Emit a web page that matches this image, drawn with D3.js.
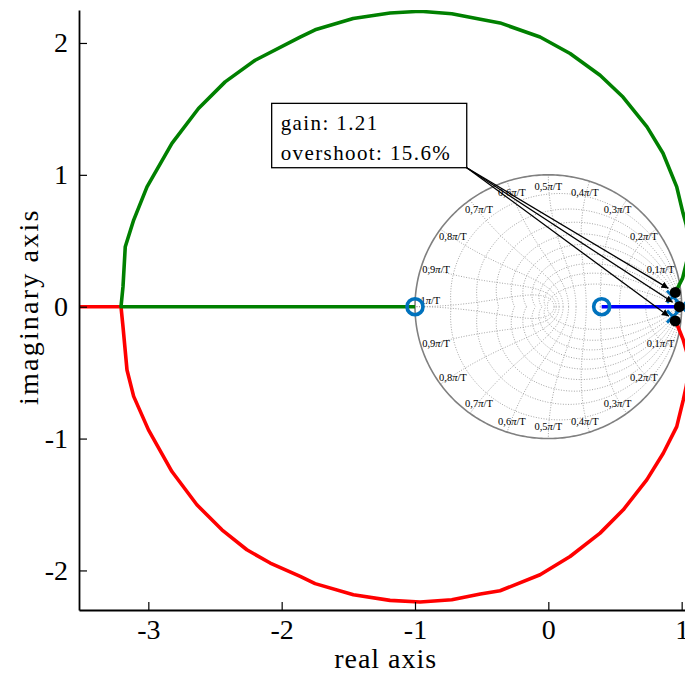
<!DOCTYPE html>
<html lang="en">
<head>
<meta charset="UTF-8">
<title>Root locus</title>
<script src="https://d3js.org/d3.v7.min.js"></script>
<style>
  body { margin: 0; background: #fff; }
  svg text { font-family: "Liberation Serif", "DejaVu Serif", serif; fill: #000; }
</style>
</head>
<body>
<div id="chart"></div>
<script>
// locus branches, [re, im]
const greenBranch = [[0.935,0.075],[0.952,0.108],[1.007,0.217],[1.04,0.35],[1.05,0.5],[1.035,0.62],[1.01,0.71],
  [0.963,0.909],[0.86,1.164],[0.74,1.364],[0.56,1.59],[0.388,1.755],[0.163,1.92],[-0.062,2.045],[-0.362,2.152],
  [-0.51,2.18],[-0.724,2.222],[-0.962,2.24],[-1.187,2.227],[-1.464,2.185],[-1.749,2.10],[-1.862,2.045],
  [-2.199,1.869],[-2.424,1.705],[-2.624,1.503],[-2.823,1.238],[-3.01,0.909],[-3.11,0.657],[-3.173,0.455],
  [-3.19,0.152],[-3.205,0],[-3.06,0],[-2.6,0],[-1,0]];
const redBranch = [[0.935,-0.075],[0.957,-0.114],[1.012,-0.252],[1.04,-0.35],[1.05,-0.5],[1.035,-0.6],[1.012,-0.707],
  [0.963,-0.909],[0.862,-1.111],[0.738,-1.313],[0.562,-1.54],[0.388,-1.717],[0.163,-1.894],[-0.062,-2.033],
  [-0.362,-2.154],[-0.51,-2.179],[-0.724,-2.222],[-0.962,-2.239],[-1.187,-2.227],[-1.462,-2.184],[-1.749,-2.10],
  [-1.861,-2.045],[-2.086,-1.944],[-2.261,-1.843],[-2.448,-1.692],[-2.636,-1.502],[-2.823,-1.25],[-2.999,-0.934],
  [-3.11,-0.68],[-3.16,-0.48],[-3.19,-0.152],[-3.205,0],[-4,0]];
const blueBranch = [[1.0,0],[0.4,0]];

const olZeros = [[0.4,0],[-1,0]];
const olPoles = [[1.0,0],[0.935,0.075],[0.935,-0.075]];
const clPoles = [[0.952,0.108],[0.983,0],[0.952,-0.108]];   // at gain 1.21

const xTicks = [-3,-2,-1,0,1];
const yTicks = [-2,-1,0,1,2];

// z-plane grid
const zetas = [0.1,0.2,0.3,0.4,0.5,0.6,0.7,0.8,0.9];
const wns = [0.1,0.2,0.3,0.4,0.5,0.6,0.7,0.8,0.9,1.0];
const wnLabels = ["0,1","0,2","0,3","0,4","0,5","0,6","0,7","0,8","0,9","1"];

const infoLines = ["gain: 1.21", "overshoot: 15.6%"];
const infoBox = { x0: -2.075, y0: 1.542, x1: -0.612, y1: 1.054 };

const W = 685, H = 680;
const margin = { top: 10, right: 0, bottom: 70, left: 79 };

const svg = d3.select("#chart").append("svg")
  .attr("width", W).attr("height", H);

const x = d3.scaleLinear().domain([-3.52, 1.025]).range([margin.left, W - margin.right]);
const y = d3.scaleLinear().domain([-2.3, 2.25]).range([H - margin.bottom, margin.top]);

svg.append("defs").append("clipPath").attr("id", "plotclip")
  .append("rect")
  .attr("x", margin.left).attr("y", margin.top)
  .attr("width", W - margin.right - margin.left)
  .attr("height", H - margin.bottom - margin.top);

svg.select("defs").append("marker")
  .attr("id", "arrowhead")
  .attr("viewBox", "0 0 10 10")
  .attr("refX", 10).attr("refY", 5)
  .attr("markerWidth", 7).attr("markerHeight", 7)
  .attr("markerUnits", "userSpaceOnUse")
  .attr("orient", "auto")
  .append("path").attr("d", "M0,0 L10,5 L0,10 z").attr("fill", "#000");

const plot = svg.append("g").attr("clip-path", "url(#plotclip)");
const line = d3.line().x(d => x(d[0])).y(d => y(d[1]));

// grid: damping spirals and natural frequency curves
const grid = plot.append("g")
  .attr("fill", "none").attr("stroke", "#9a9a9a")
  .attr("stroke-width", 0.9).attr("stroke-dasharray", "1,1.6");

zetas.forEach(z => {
  const k = z / Math.sqrt(1 - z * z);
  const pts = d3.range(0, 1.0001, 0.01).map(t => {
    const m = Math.exp(-Math.PI * k * t), a = Math.PI * t;
    return [m * Math.cos(a), m * Math.sin(a)];
  });
  grid.append("path").attr("d", line(pts));
  grid.append("path").attr("d", line(pts.map(p => [p[0], -p[1]])));
});

wns.forEach(w => {
  const pts = d3.range(0, Math.PI / 2 + 0.0001, Math.PI / 200).map(t => {
    const m = Math.exp(-Math.PI * w * Math.cos(t)), a = Math.PI * w * Math.sin(t);
    return [m * Math.cos(a), m * Math.sin(a)];
  });
  grid.append("path").attr("d", line(pts));
  grid.append("path").attr("d", line(pts.map(p => [p[0], -p[1]])));
});

// unit circle
plot.append("path")
  .attr("d", line(d3.range(0, 2 * Math.PI + 0.001, Math.PI / 180).map(t => [Math.cos(t), Math.sin(t)])))
  .attr("fill", "none").attr("stroke", "#808080").attr("stroke-width", 1.6);

// frequency labels
const lab = plot.append("g").attr("font-size", 10.5).attr("text-anchor", "middle");
wns.forEach((w, i) => {
  const a = Math.PI * w;
  [1, -1].forEach(s => {
    if (w === 1 && s === -1) return;
    const t = lab.append("text")
      .attr("x", x(0.885 * Math.cos(a)))
      .attr("y", y(s * 0.91 * Math.sin(a) + (w === 1 ? 0.05 : 0)))
      .attr("dy", "0.35em");
    t.append("tspan").text(wnLabels[i]);
    t.append("tspan").attr("font-style", "italic").text("π");
    t.append("tspan").text("/T");
  });
});

// locus branches
[[redBranch, "#ff0000"], [greenBranch, "#008000"], [blueBranch, "#0000ff"]].forEach(([b, c]) => {
  plot.append("path").attr("d", line(b))
    .attr("fill", "none").attr("stroke", c)
    .attr("stroke-width", 3.6).attr("stroke-linejoin", "round");
});

// open-loop zeros and poles
const mk = "#0072bd";
plot.selectAll("circle.zero").data(olZeros).join("circle")
  .attr("class", "zero")
  .attr("cx", d => x(d[0])).attr("cy", d => y(d[1])).attr("r", 8)
  .attr("fill", "none").attr("stroke", mk).attr("stroke-width", 3.6);

plot.selectAll("path.pole").data(olPoles).join("path")
  .attr("class", "pole")
  .attr("d", d => {
    const cx = x(d[0]), cy = y(d[1]), s = 6;
    return `M${cx - s},${cy - s}L${cx + s},${cy + s}M${cx - s},${cy + s}L${cx + s},${cy - s}`;
  })
  .attr("stroke", mk).attr("stroke-width", 3);

// closed-loop poles
plot.selectAll("circle.cl").data(clPoles).join("circle")
  .attr("class", "cl")
  .attr("cx", d => x(d[0])).attr("cy", d => y(d[1])).attr("r", 5.5)
  .attr("fill", "#000");

// annotation box + arrows
const bx = x(infoBox.x0), by = y(infoBox.y0), bx1 = x(infoBox.x1), by1 = y(infoBox.y1);
clPoles.forEach(p => {
  const px = x(p[0]), py = y(p[1]);
  const dx = px - bx1, dy = py - by1, len = Math.hypot(dx, dy);
  const sh = 8;
  svg.append("line")
    .attr("x1", bx1).attr("y1", by1)
    .attr("x2", px - dx / len * sh).attr("y2", py - dy / len * sh)
    .attr("stroke", "#000").attr("stroke-width", 1.3)
    .attr("marker-end", "url(#arrowhead)");
});
svg.append("rect")
  .attr("x", bx).attr("y", by).attr("width", bx1 - bx).attr("height", by1 - by)
  .attr("fill", "#fff").attr("stroke", "#000").attr("stroke-width", 1.3);
svg.selectAll("text.info").data(infoLines).join("text")
  .attr("class", "info")
  .attr("x", bx + 9).attr("y", (d, i) => by + 27 + i * 30)
  .attr("font-size", 21).attr("letter-spacing", 1.4)
  .text(d => d);

// axes
const xAxis = svg.append("g")
  .attr("transform", `translate(0,${H - margin.bottom})`)
  .call(d3.axisBottom(x).tickValues(xTicks).tickFormat(d => String(d))
    .tickSizeInner(-8).tickSizeOuter(0).tickPadding(9));
const yAxis = svg.append("g")
  .attr("transform", `translate(${margin.left},0)`)
  .call(d3.axisLeft(y).tickValues(yTicks).tickFormat(d => String(d))
    .tickSizeInner(-8).tickSizeOuter(0).tickPadding(11));

[xAxis, yAxis].forEach(g => {
  g.attr("font-family", null);
  g.select(".domain").attr("stroke", "#000").attr("stroke-width", 1.8);
  g.selectAll(".tick line").attr("stroke", "#000").attr("stroke-width", 1.2);
  g.selectAll(".tick text")
    .attr("font-size", 28).attr("fill", "#000");
});

svg.append("text")
  .attr("x", x(-1.22)).attr("y", H - 12)
  .attr("text-anchor", "middle").attr("font-size", 28).attr("letter-spacing", 1)
  .text("real axis");
svg.append("text")
  .attr("transform", `translate(${38},${y(0)}) rotate(-90)`)
  .attr("text-anchor", "middle").attr("font-size", 28).attr("letter-spacing", 2.2)
  .text("imaginary axis");
</script>
</body>
</html>
